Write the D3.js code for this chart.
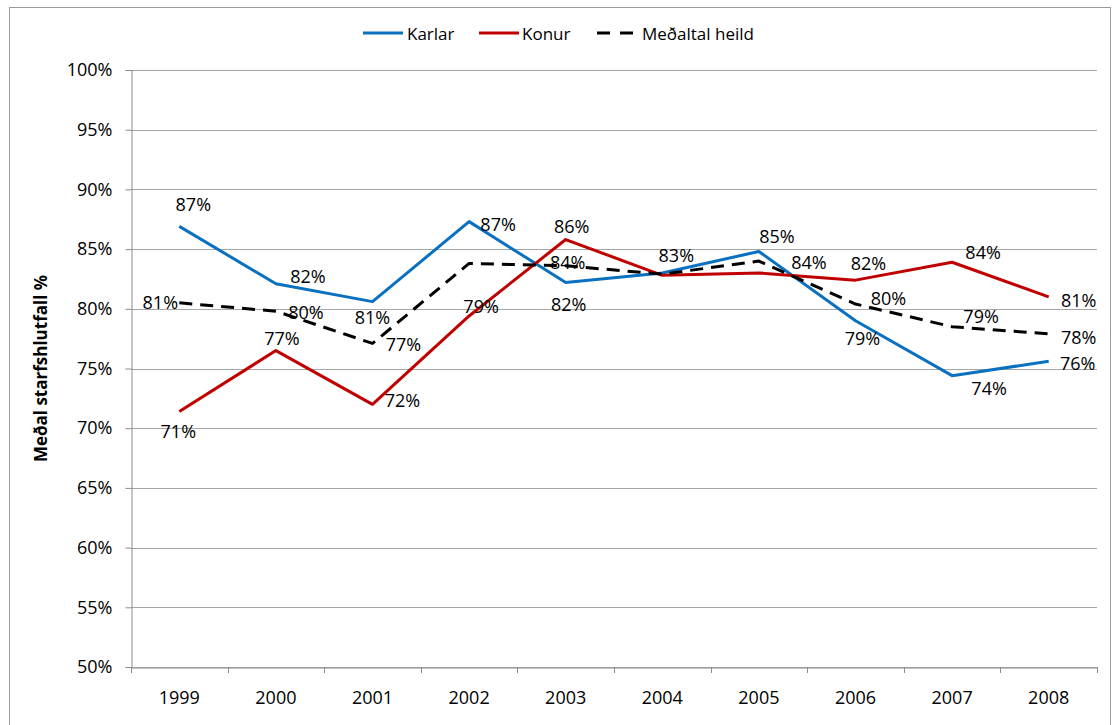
<!DOCTYPE html>
<html>
<head>
<meta charset="utf-8">
<script src="https://cdn.jsdelivr.net/npm/d3@7"></script>
<style>
  html, body { margin: 0; padding: 0; background: #fff; }
  svg { display: block; }
  text { font-family: "Open Sans", "Liberation Sans", sans-serif; fill: #000; }
</style>
</head>
<body>
<svg id="chart" width="1115" height="725"></svg>
<script>
// ---- data ----
const years = ["1999","2000","2001","2002","2003","2004","2005","2006","2007","2008"];
const karlar = [86.9, 82.1, 80.6, 87.3, 82.2, 83.0, 84.8, 79.0, 74.4, 75.6];
const konur  = [71.4, 76.5, 72.0, 79.4, 85.8, 82.8, 83.0, 82.4, 83.9, 81.0];
const medaltal = [80.5, 79.8, 77.1, 83.8, 83.6, 82.9, 84.0, 80.4, 78.5, 77.9];
const yTicks = [50, 55, 60, 65, 70, 75, 80, 85, 90, 95, 100];
const seriesNames = ["Karlar", "Konur", "Meðaltal heild"];
const yTitle = "Meðal starfshlutfall %";

// ---- label placement (layout, not data): [dx, dy] offsets from the point, null = hidden ----
const karlarLabelPos = [[14,-22],[32,-8],[0,15],[29,2],[3,21],[14,-18],[18,-15],[7,17],[37,12],[29,2]];
const konurLabelPos  = [[-1,20],[6,-13],[30,-4],[12,-10],[6,-14],null,null,[13,-17],[31,-10],[30,3]];
const medalLabelPos  = [[-19,-1],[30,1],[31,1],null,[2,-4],null,[50,1],[33,-6],[29,-11],[30,3]];

const svg = d3.select("#chart");
const plot = { left: 131, right: 1097, top: 70, bottom: 667 };
const FS = "18px";

// outer border
svg.append("rect").attr("x", 9.5).attr("y", 7.5).attr("width", 1101).attr("height", 730)
  .attr("fill", "none").attr("stroke", "#9a9a9a").attr("stroke-width", 1);

const x = d3.scaleBand().domain(years).range([plot.left, plot.right]).paddingInner(0).paddingOuter(0);
const y = d3.scaleLinear().domain([50, 100]).range([plot.bottom, plot.top]);
const cx = d => x(d) + x.bandwidth() / 2;

// gridlines
svg.append("g").selectAll("line").data(yTicks).join("line")
  .attr("x1", plot.left).attr("x2", plot.right)
  .attr("y1", d => Math.round(y(d)) + 0.5).attr("y2", d => Math.round(y(d)) + 0.5)
  .attr("stroke", "#a6a6a6").attr("stroke-width", 1);

// y axis
const yAxis = svg.append("g").attr("transform", `translate(${plot.left + 0.5},0)`)
  .call(d3.axisLeft(y).tickValues(yTicks).tickFormat(d => d + "%").tickSize(6).tickPadding(13));
yAxis.select(".domain").attr("stroke", "#8c8c8c");
yAxis.selectAll(".tick line").attr("stroke", "#8c8c8c");
yAxis.selectAll(".tick text").style("font-size", FS).attr("fill", "#000")
  .style("font-family", "'Open Sans', sans-serif");

// x axis
const xAxis = svg.append("g").attr("transform", `translate(0,${plot.bottom + 0.5})`)
  .call(d3.axisBottom(x).tickSize(0).tickPadding(24));
xAxis.select(".domain").attr("stroke", "#8c8c8c");
xAxis.selectAll(".tick text").style("font-size", FS).attr("fill", "#000")
  .style("font-family", "'Open Sans', sans-serif");
// category boundary ticks
const bounds = years.map(d => x(d)).concat([plot.right]);
svg.append("g").selectAll("line").data(bounds).join("line")
  .attr("x1", d => Math.round(d) + 0.5).attr("x2", d => Math.round(d) + 0.5)
  .attr("y1", plot.bottom).attr("y2", plot.bottom + 6)
  .attr("stroke", "#8c8c8c");

// y title
svg.append("text")
  .attr("transform", `translate(47,${(plot.top + plot.bottom) / 2}) rotate(-90)`)
  .attr("text-anchor", "middle")
  .style("font-size", "17px").style("font-weight", "bold")
  .text(yTitle);

const series = [
  { name: seriesNames[0], values: karlar, color: "#0a70c0", dash: null, pos: karlarLabelPos },
  { name: seriesNames[1], values: konur, color: "#c00000", dash: null, pos: konurLabelPos },
  { name: seriesNames[2], values: medaltal, color: "#000000", dash: "13,8", pos: medalLabelPos }
];

const line = d3.line().x((d, i) => cx(years[i])).y(d => y(d));

series.forEach(s => {
  svg.append("path").datum(s.values)
    .attr("d", line)
    .attr("fill", "none")
    .attr("stroke", s.color)
    .attr("stroke-width", 3)
    .attr("stroke-dasharray", s.dash)
    .attr("stroke-linejoin", "round");
});

// data labels
series.forEach(s => {
  svg.append("g").selectAll("text").data(s.values.map((v, i) => ({ v, i, p: s.pos[i] })).filter(d => d.p))
    .join("text")
    .attr("x", d => cx(years[d.i]) + d.p[0])
    .attr("y", d => y(d.v) + d.p[1])
    .attr("text-anchor", "middle")
    .attr("dominant-baseline", "central")
    .style("font-size", FS)
    .text(d => Math.round(d.v) + "%");
});

// legend
const legendItems = [
  { x1: 363, x2: 403, tx: 407, s: series[0] },
  { x1: 479, x2: 519, tx: 522, s: series[1] },
  { x1: 597, x2: 637, tx: 642, s: series[2] }
];
const lg = svg.append("g");
legendItems.forEach(it => {
  lg.append("line").attr("x1", it.x1).attr("x2", it.x2).attr("y1", 33).attr("y2", 33)
    .attr("stroke", it.s.color).attr("stroke-width", 3)
    .attr("stroke-dasharray", it.s.dash ? "13,10" : null);
  lg.append("text").attr("x", it.tx).attr("y", 33).attr("dominant-baseline", "central")
    .style("font-size", "17px").text(it.s.name);
});
</script>
</body>
</html>
